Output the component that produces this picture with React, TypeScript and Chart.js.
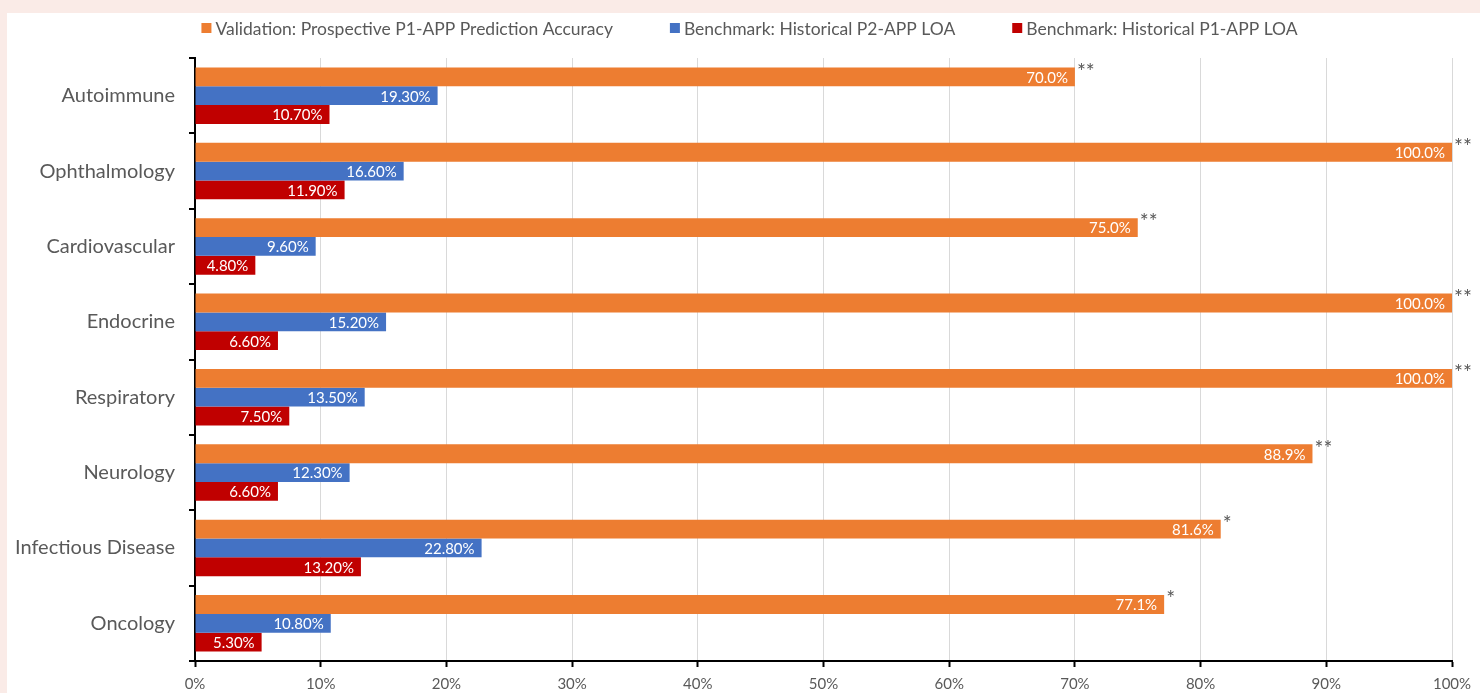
import React, { useEffect, useRef } from "react";
import { Chart, registerables } from "chart.js";

Chart.register(...registerables);

const categories = [
  "Autoimmune",
  "Ophthalmology",
  "Cardiovascular",
  "Endocrine",
  "Respiratory",
  "Neurology",
  "Infectious Disease",
  "Oncology",
];
const seriesNames = [
  "Validation: Prospective P1-APP Prediction Accuracy",
  "Benchmark: Historical P2-APP LOA",
  "Benchmark: Historical P1-APP LOA",
];
const validationAccuracy = [70.0, 100.0, 75.0, 100.0, 100.0, 88.9, 81.6, 77.1];
const p2Loa = [19.3, 16.6, 9.6, 15.2, 13.5, 12.3, 22.8, 10.8];
const p1Loa = [10.7, 11.9, 4.8, 6.6, 7.5, 6.6, 13.2, 5.3];
const validationLabels = ["70.0%", "100.0%", "75.0%", "100.0%", "100.0%", "88.9%", "81.6%", "77.1%"];
const p2Labels = ["19.30%", "16.60%", "9.60%", "15.20%", "13.50%", "12.30%", "22.80%", "10.80%"];
const p1Labels = ["10.70%", "11.90%", "4.80%", "6.60%", "7.50%", "6.60%", "13.20%", "5.30%"];
const significance = ["**", "**", "**", "**", "**", "**", "*", "*"];
const xTickValues = [0, 10, 20, 30, 40, 50, 60, 70, 80, 90, 100];

const COLORS = ["#ED7D31", "#4472C4", "#C00000"];
const TEXT = "#595959";
const FONT = "Lato, 'Open Sans', sans-serif";

const labelSets = [validationLabels, p2Labels, p1Labels];

const barLabelPlugin = {
  id: "barLabels",
  afterDatasetsDraw(chart: any) {
    const ctx = chart.ctx;
    ctx.save();
    chart.data.datasets.forEach((ds: any, di: number) => {
      const meta = chart.getDatasetMeta(di);
      meta.data.forEach((bar: any, i: number) => {
        ctx.font = `15px ${FONT}`;
        ctx.fillStyle = "#FFFFFF";
        ctx.textAlign = "right";
        ctx.textBaseline = "middle";
        ctx.fillText(labelSets[di][i], bar.x - 7, bar.y + 1);
        if (di === 0) {
          ctx.font = `21px ${FONT}`;
          ctx.fillStyle = TEXT;
          ctx.textAlign = "left";
          ctx.textBaseline = "top";
          const top = bar.y - bar.height / 2;
          ctx.fillText(significance[i], bar.x + 2, top - 6);
        }
      });
    });
    ctx.restore();
  },
};

const legendPlugin = {
  id: "topLegend",
  afterDraw(chart: any) {
    const ctx = chart.ctx;
    ctx.save();
    ctx.font = `17.5px ${FONT}`;
    const box = 10;
    const gapText = 4;
    const gapItem = 57;
    const items = chart.data.datasets.map((ds: any) => ({
      text: ds.label,
      color: ds.backgroundColor,
      w: ctx.measureText(ds.label).width,
    }));
    const total =
      items.reduce((s: number, it: any) => s + box + gapText + it.w, 0) +
      gapItem * (items.length - 1);
    let x = chart.width / 2 + 6 - total / 2;
    const y = 15;
    ctx.textBaseline = "middle";
    ctx.textAlign = "left";
    items.forEach((it: any) => {
      ctx.fillStyle = it.color;
      ctx.fillRect(x, y - box / 2, box, box);
      ctx.fillStyle = TEXT;
      ctx.fillText(it.text, x + box + gapText, y + 1);
      x += box + gapText + it.w + gapItem;
    });
    ctx.restore();
  },
};

function BarChart() {
  const ref = useRef<HTMLCanvasElement>(null);
  useEffect(() => {
    if (!ref.current) return;
    const chart = new Chart(ref.current, {
      type: "bar",
      data: {
        labels: categories,
        datasets: [validationAccuracy, p2Loa, p1Loa].map((d, i) => ({
          label: seriesNames[i],
          data: d,
          backgroundColor: COLORS[i],
          borderWidth: 0,
          categoryPercentage: 0.75,
          barPercentage: 1.0,
        })),
      },
      options: {
        indexAxis: "y",
        responsive: false,
        animation: false,
        devicePixelRatio: 1,
        layout: { padding: { left: 0, right: 28, top: 45, bottom: 0 } },
        plugins: {
          tooltip: { enabled: false },
          legend: { display: false },
        },
        scales: {
          x: {
            type: "linear",
            min: 0,
            max: 100,
            afterBuildTicks: (scale: any) => {
              scale.ticks = xTickValues.map((v) => ({ value: v }));
            },
            afterFit: (scale: any) => {
              scale.height = 32;
            },
            ticks: {
              color: TEXT,
              font: { family: FONT, size: 15 },
              padding: 8,
              callback: (v: any) => `${v}%`,
            },
            grid: {
              color: "#D9D9D9",
              lineWidth: 1,
              drawTicks: true,
              tickLength: 6,
              tickColor: "#000000",
              tickWidth: 2,
            },
            border: { display: true, color: "#000000", width: 2 },
          },
          y: {
            type: "category",
            afterFit: (scale: any) => {
              scale.width = 188;
            },
            ticks: {
              color: TEXT,
              font: { family: FONT, size: 20 },
              padding: 14,
            },
            grid: {
              display: true,
              offset: true,
              drawOnChartArea: false,
              drawTicks: true,
              tickLength: 6,
              color: "#000000",
              lineWidth: 2,
            },
            border: { display: true, color: "#000000", width: 2 },
          },
        },
      },
      plugins: [barLabelPlugin, legendPlugin],
    } as any);
    return () => chart.destroy();
  }, []);
  return <canvas ref={ref} width={1473} height={680} style={{ display: "block" }} />;
}

export default function App() {
  return (
    <div
      style={{
        position: "fixed",
        inset: 0,
        background: "#FAEBE7",
        overflow: "hidden",
      }}
    >
      <div
        style={{
          position: "absolute",
          left: 7,
          top: 13,
          width: 1473,
          height: 680,
          background: "#FFFFFF",
        }}
      >
        <BarChart />
      </div>
    </div>
  );
}
